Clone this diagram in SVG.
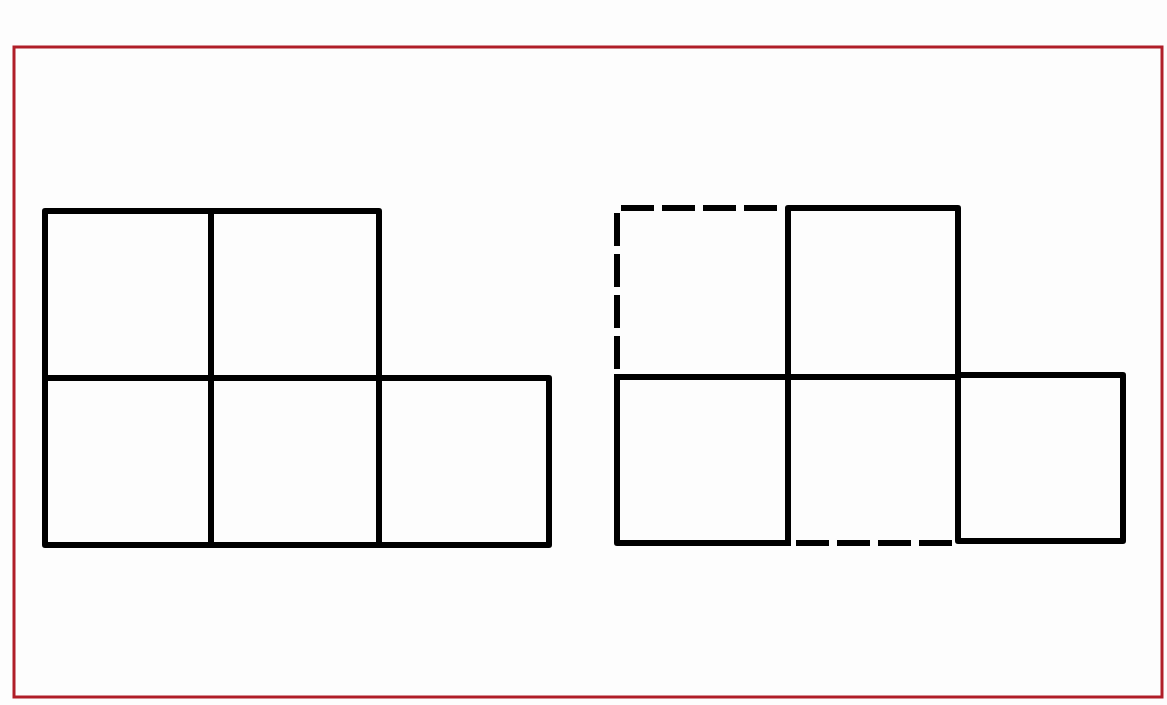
<svg xmlns="http://www.w3.org/2000/svg" width="1167" height="705" viewBox="0 0 1167 705">
<style>
.s{fill:none;stroke:#000;stroke-width:6;stroke-linejoin:round;stroke-linecap:square}
.d{fill:none;stroke:#000;stroke-width:6;stroke-dasharray:33 8}
</style>
<rect x="0" y="0" width="1167" height="705" fill="#fdfdfd"/>
<rect x="14" y="47" width="1148" height="650" fill="none" stroke="#b01e28" stroke-width="3"/>
<g id="figure-left">
<path class="s" d="M45 211 H379 V378 H549 V545 H45 Z"/>
<path class="s" d="M45 378 H379 M211 211 V545 M379 378 V545"/>
</g>
<g id="figure-right">
<path class="s" d="M788 543 V208 H958 V375 H1123 V541 H958 V375 M617 377 H958 M617 377 V543 H788 M788 377 V543"/>
<path class="d" d="M621 208 H784"/>
<path class="d" d="M617 213 V373"/>
<path class="d" d="M796 543 H952"/>
</g>
</svg>
